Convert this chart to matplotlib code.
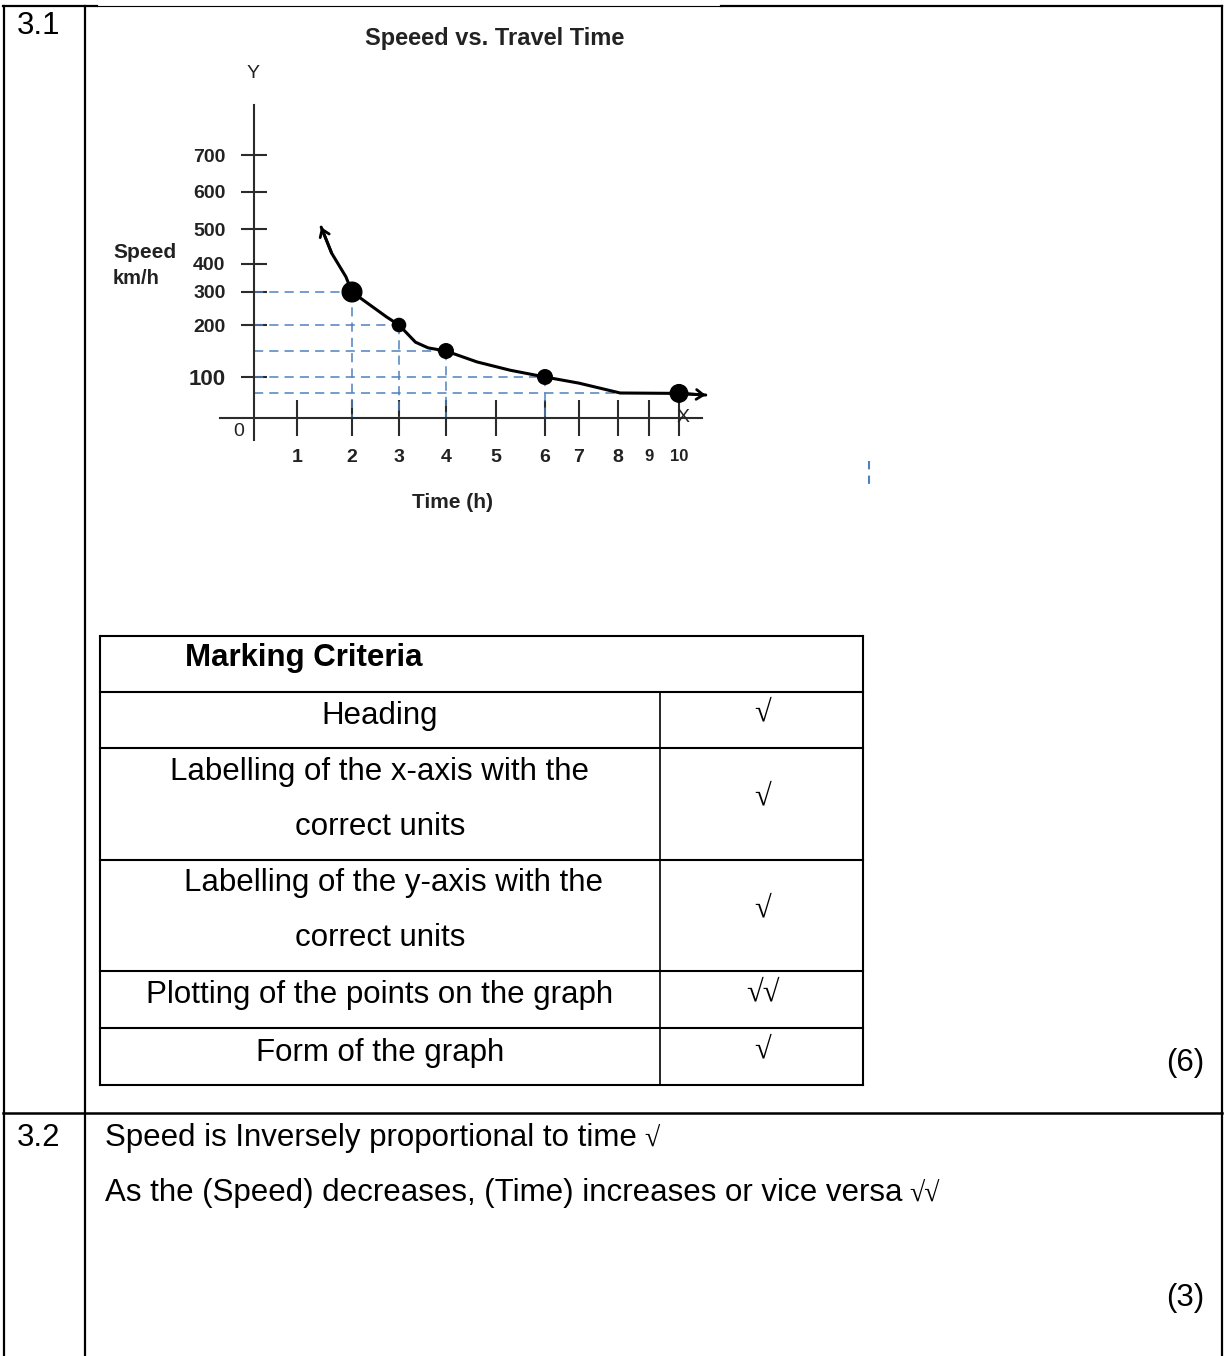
import numpy as np
import matplotlib
matplotlib.use('Agg')
import matplotlib.pyplot as plt

plt.rcParams['font.family'] = ['Liberation Sans', 'DejaVu Sans']
SERIF = ['Liberation Serif', 'DejaVu Serif']

# ---- values ----
hours = [2, 3, 4, 6, 10]
speeds = [300, 200, 150, 100, 60]

# hand drawn curve
curve_t = [1.44, 1.63, 1.89, 2.0, 2.74, 3.0, 3.35, 3.62, 4.0, 4.62, 5.29, 6.0, 7.0, 8.07, 10.0, 10.89]
curve_v = [505, 431, 354, 300, 224, 200, 167, 156, 150, 129, 113, 100, 85, 61, 60, 56]

x_ticks = [1, 2, 3, 4, 5, 6, 7, 8, 9, 10]
y_ticks = [100, 200, 300, 400, 500, 600, 700]

criteria = [['Heading'],
            ['Labelling of the x-axis with the', 'correct units'],
            ['Labelling of the y-axis with the', 'correct units'],
            ['Plotting of the points on the graph'],
            ['Form of the graph']]
marks = ['√', '√', '√', '√√', '√']

answer_lines = ['Speed is Inversely proportional to time',
                'As the (Speed) decreases, (Time) increases or vice versa']
answer_marks = ['√', '√√']

# ---- layout, page pixels ----
W, H = 1229, 1356
X0, Y0 = 254, 418           # origin of the sketch on the page
# the sketch axes are drawn by hand, ticks are unevenly spaced:
# value -> drawn distance from the origin (px)
x_knot_val = [-6, 0, 1, 2, 3, 4, 5, 6, 7, 8, 9, 10, 14]
x_knot_px = [-255, 0, 43, 98, 145, 192, 242, 291, 325, 364, 395, 425, 545]
y_knot_val = [-400, 0, 100, 200, 300, 400, 500, 600, 700, 1100]
y_knot_px = [-164, 0, 41, 93, 126, 154, 189, 226, 263, 411]


def fx(v):
    return np.interp(v, x_knot_val, x_knot_px)


def ix(p):
    return np.interp(p, x_knot_px, x_knot_val)


def fy(v):
    return np.interp(v, y_knot_val, y_knot_px)


def iy(p):
    return np.interp(p, y_knot_px, y_knot_val)


fig = plt.figure(figsize=(W / 100, H / 100), dpi=100)
page = fig.add_axes([0, 0, 1, 1])
page.set_xlim(0, W)
page.set_ylim(H, 0)
page.axis('off')

LW = 1.6
# outer frame of the memo
page.plot([3, 97], [6, 6], color='black', lw=LW)
page.plot([97, 721], [6, 6], color='black', lw=0.8)
page.plot([721, 1222], [6, 6], color='black', lw=LW)
for xx in [3.5, 84.5, 1221.5]:
    page.plot([xx, xx], [6, H], color='black', lw=LW)
page.plot([3, 1222], [1113, 1113], color='black', lw=1.8)

page.text(17, 34, '3.1', fontsize=22.5, va='baseline')
page.text(17, 1146, '3.2', fontsize=22.5, va='baseline')
page.text(1185, 1063, '(6)', fontsize=22.5, ha='center', va='center')
page.text(1185, 1298, '(3)', fontsize=22.5, ha='center', va='center')

# marking table
tl, tr, tc = 100, 863, 660
row_edges = [636, 692, 748, 860, 971, 1028, 1085]
for yy in row_edges:
    page.plot([tl, tr], [yy, yy], color='black', lw=1.5)
page.plot([tl, tl], [row_edges[0], row_edges[-1]], color='black', lw=1.5)
page.plot([tr, tr], [row_edges[0], row_edges[-1]], color='black', lw=1.5)
page.plot([tc, tc], [row_edges[1], row_edges[-1]], color='black', lw=1.2)
page.text(185, 666, 'Marking Criteria', fontsize=22.5, fontweight='bold', va='baseline')

for i, (lines, mk) in enumerate(zip(criteria, marks)):
    mid = (row_edges[i + 1] + row_edges[i + 2]) / 2
    if len(lines) == 1:
        ys = [mid - 7]
    else:
        ys = [mid - 35, mid + 20]
    for j, (s, yy) in enumerate(zip(lines, ys)):
        xc = 393 if (i == 2 and j == 0) else 380
        page.text(xc, yy + 11, s, fontsize=22.5, ha='center', va='baseline')
    page.text(763, mid - 7, mk, fontsize=22, ha='center', va='center', family=SERIF)

# answers of 3.2
ans_y = [1146, 1201]
ans_txt = []
for s, yy in zip(answer_lines, ans_y):
    ans_txt.append(page.text(105, yy, s, fontsize=22.5, va='baseline'))

# stray dash on the scan
page.plot([869, 869], [461, 484], color='#4f81bd', lw=1.5, ls=(0, (4, 3)))

# ---- the sketch ----
ax = fig.add_axes([100 / W, 1 - 530 / H, 660 / W, 510 / H])
ax.patch.set_alpha(0)
ax.set_xscale('function', functions=(fx, ix))
ax.set_yscale('function', functions=(fy, iy))
ax.set_xlim(ix(100 - X0), ix(760 - X0))
ax.set_ylim(iy(Y0 - 530), iy(Y0 - 20))

axis_col = '#2b2b2b'
for side in ['top', 'right']:
    ax.spines[side].set_visible(False)
ax.spines['left'].set_position(('data', 0))
ax.spines['bottom'].set_position(('data', 0))
ax.spines['left'].set_bounds(iy(-22), iy(313))
ax.spines['bottom'].set_bounds(ix(220 - X0), ix(702 - X0))
for side in ['left', 'bottom']:
    ax.spines[side].set_color(axis_col)
    ax.spines[side].set_linewidth(1.5)

ax.set_xticks(x_ticks)
ax.set_xticklabels([str(v) for v in x_ticks], fontweight='bold')
ax.set_yticks(y_ticks)
ax.set_yticklabels([str(v) for v in y_ticks], fontweight='bold')
ax.tick_params(axis='x', direction='inout', length=26, width=1.5, pad=9,
               labelsize=14, color=axis_col, labelcolor='#222222')
ax.tick_params(axis='y', direction='inout', length=19, width=1.5, pad=11,
               labelsize=14, color=axis_col, labelcolor='#222222')
ax.minorticks_off()
ax.get_yticklabels()[0].set_fontsize(16)
for lab in ax.get_xticklabels()[-2:]:
    lab.set_fontsize(12)

guide = '#4f81bd'
for t, v in zip(hours, speeds):
    ax.plot([0, t], [v, v], color=guide, lw=1.1, ls=(0, (6, 4)))
for t, v in zip(hours[:-1], speeds[:-1]):
    ax.plot([t, t], [v, 0], color=guide, lw=1.1, ls=(0, (6, 4)))

ax.plot(curve_t, curve_v, color='black', lw=2.2, solid_capstyle='round', zorder=4)
ax.scatter(hours, speeds, s=[200, 90, 110, 110, 160], color='black', zorder=5)
ax.annotate('', xy=(curve_t[0], curve_v[0]), xytext=(curve_t[1], curve_v[1]),
            arrowprops=dict(arrowstyle='->,head_length=0.5,head_width=0.35',
                            lw=2, color='black', shrinkA=0, shrinkB=0))
ax.annotate('', xy=(curve_t[-1], curve_v[-1]), xytext=(curve_t[-2], curve_v[-2]),
            arrowprops=dict(arrowstyle='->,head_length=0.5,head_width=0.35',
                            lw=2, color='black', shrinkA=0, shrinkB=0))

ax.annotate('0', (0, 0), xytext=(-11, -10), textcoords='offset points',
            ha='center', va='center', fontsize=14, color='#222222')
ax.annotate('X', (10, 0), xytext=(3, 0), textcoords='offset points',
            ha='center', va='center', fontsize=14, color='#222222')

page.text(495, 38, 'Speeed vs. Travel Time', ha='center', va='center',
          fontsize=17, fontweight='bold', color='#222222')
page.text(253, 73, 'Y', ha='center', va='center', fontsize=14, color='#222222')
page.text(113, 252, 'Speed', va='center', fontsize=15, fontweight='bold', color='#222222')
page.text(113, 279, 'km/h', va='center', fontsize=14.5, fontweight='bold', color='#222222')
page.text(452, 503, 'Time (h)', ha='center', va='center', fontsize=15,
          fontweight='bold', color='#222222')

# tick marks of 3.2 follow their sentence
fig.canvas.draw()
rend = fig.canvas.get_renderer()
for txt, mk, yy in zip(ans_txt, answer_marks, ans_y):
    bb = txt.get_window_extent(rend)
    x_end = page.transData.inverted().transform((bb.x1, bb.y0))[0]
    page.text(x_end + 7, yy, mk, fontsize=20, va='baseline', family=SERIF)

fig.savefig('out.png', dpi=100)
